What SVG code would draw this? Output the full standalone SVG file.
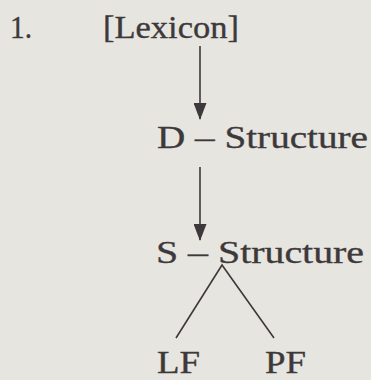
<svg xmlns="http://www.w3.org/2000/svg" width="371" height="380" viewBox="0 0 371 380">
<style>
text { font-family: "Liberation Serif", "Times New Roman", serif; fill: #3d393b; stroke: #3d393b; stroke-width: 0.35; }
.c { stroke: #3d393b; stroke-width: 1.6; fill: none; }
</style>
<defs>
<marker id="ah" viewBox="0 0 17 13" refX="16" refY="6.5" markerWidth="17" markerHeight="13" markerUnits="userSpaceOnUse" orient="auto">
<path d="M0,0 L17,6.5 L0,13 Z" fill="#3d393b"/>
</marker>
</defs>
<rect width="371" height="380" fill="#e7e5e0"/>
<g id="num"><text x="10" y="38" font-size="31" textLength="22" lengthAdjust="spacingAndGlyphs">1.</text></g>
<g id="lexicon"><text x="103" y="38" font-size="31" textLength="136" lengthAdjust="spacingAndGlyphs">[Lexicon]</text></g>
<g id="dstructure"><text x="157" y="148" font-size="32" textLength="211" lengthAdjust="spacingAndGlyphs">D – Structure</text></g>
<g id="sstructure"><text x="156" y="263" font-size="32" textLength="208" lengthAdjust="spacingAndGlyphs">S – Structure</text></g>
<g id="lf"><text x="157" y="373" font-size="32" textLength="43" lengthAdjust="spacingAndGlyphs">LF</text></g>
<g id="pf"><text x="265" y="373" font-size="32" textLength="41" lengthAdjust="spacingAndGlyphs">PF</text></g>
<g id="connectors">
<line class="c" x1="200" y1="46" x2="200" y2="119" marker-end="url(#ah)"/>
<line class="c" x1="200" y1="167" x2="200" y2="240" marker-end="url(#ah)"/>
<polyline class="c" points="176,338 222,265 274,338"/>
</g>
</svg>
